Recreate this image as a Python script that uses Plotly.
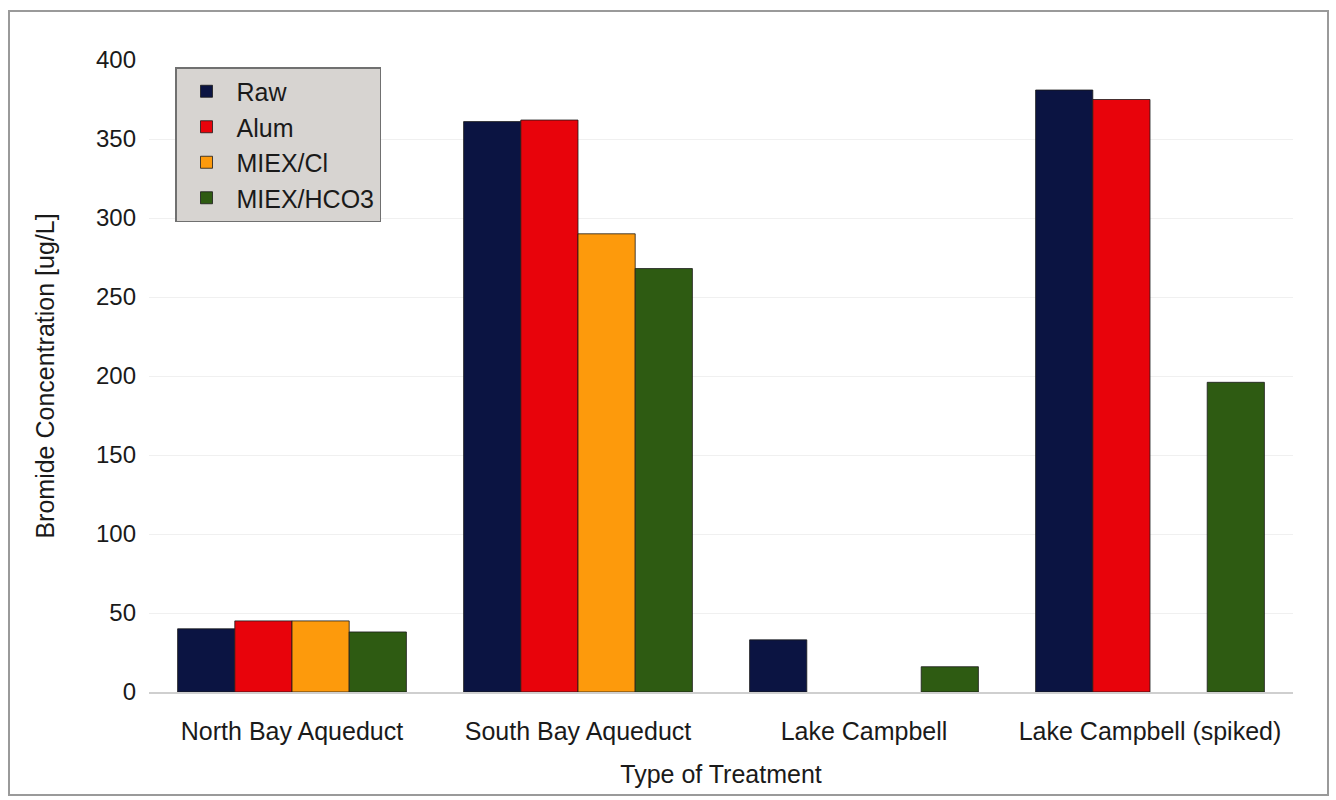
import plotly.graph_objects as go

categories = ["North Bay Aqueduct", "South Bay Aqueduct", "Lake Campbell", "Lake Campbell (spiked)"]
raw = [40, 361, 33, 381]
alum = [45, 362, None, 375]
miex_cl = [45, 290, None, None]
miex_hco3 = [38, 268, 16, 196]
y_ticks = [0, 50, 100, 150, 200, 250, 300, 350, 400]

series = [
    ("Raw", raw, "#0b1442"),
    ("Alum", alum, "#e8030b"),
    ("MIEX/Cl", miex_cl, "#fd9a0c"),
    ("MIEX/HCO3", miex_hco3, "#2e5b12"),
]

fig = go.Figure()
for name, vals, color in series:
    fig.add_trace(go.Bar(
        x=categories, y=vals, name=name,
        marker=dict(color=color, line=dict(color="#1a1a1a", width=0.8)),
    ))

font = "Liberation Sans, Arial, sans-serif"
L, R, T, B = 149, 43, 60, 108
W, H = 1336, 800
pw, ph = W - L - R, H - T - B

fig.update_layout(
    width=W, height=H,
    margin=dict(l=L, r=R, t=T, b=B),
    paper_bgcolor="white", plot_bgcolor="white",
    barmode="group", bargap=0.2, bargroupgap=0,
    font=dict(family=font, size=25, color="#1a1a1a"),
    legend=dict(
        x=(175 - L) / pw, y=(H - B - 67) / ph, xanchor="left", yanchor="top",
        bgcolor="#d7d4d1", bordercolor="#707070", borderwidth=1.5,
        font=dict(size=25, family=font), itemwidth=50,
        tracegroupgap=15,
    ),
    xaxis=dict(
        title=dict(text="Type of Treatment", font=dict(size=25), standoff=22),
        showgrid=False, showline=True, linecolor="#cfcfcf", linewidth=1.5,
        tickfont=dict(size=25), ticks="", ticklabelstandoff=16,
    ),
    yaxis=dict(
        title=dict(text="Bromide Concentration [ug/L]", font=dict(size=25), standoff=34),
        range=[0, 400], tickvals=y_ticks, ticktext=[str(v) for v in y_ticks],
        showgrid=True, gridcolor="#f0f0f0", gridwidth=1, zeroline=False,
        showline=False, tickfont=dict(size=24), ticks="", ticklabelstandoff=12,
    ),
    showlegend=True,
)

fig.add_shape(
    type="rect", xref="paper", yref="paper",
    x0=(9 - L) / pw, x1=(1328 - L) / pw,
    y0=(H - B - 795) / ph, y1=(H - B - 11) / ph,
    line=dict(color="#9a9a9a", width=2), fillcolor="rgba(0,0,0,0)", layer="below",
)

fig.write_html("out.html")
